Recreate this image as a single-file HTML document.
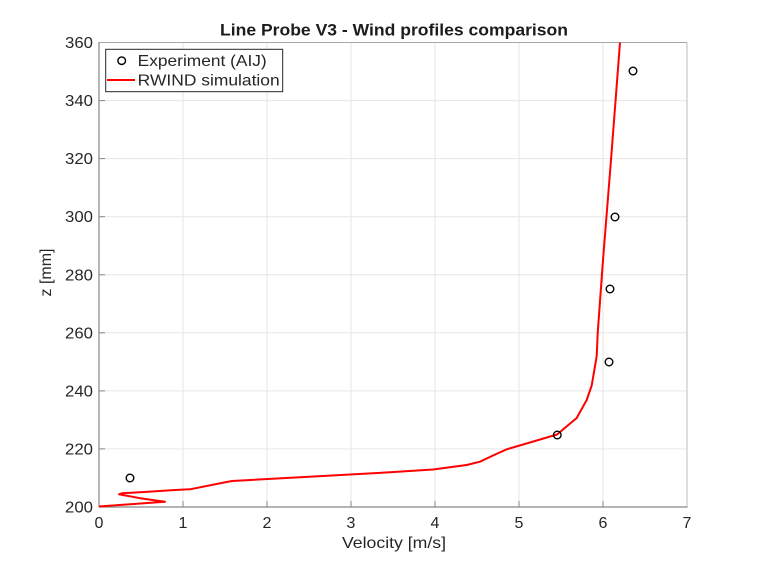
<!DOCTYPE html>
<html>
<head>
<meta charset="utf-8">
<style>
  html,body{margin:0;padding:0;background:#fff;}
  svg{display:block;}
  text{font-family:"Liberation Sans",Arial,sans-serif;fill:#262626;}
</style>
</head>
<body>
<svg width="760" height="570" viewBox="0 0 760 570" xmlns="http://www.w3.org/2000/svg">
  <rect x="0" y="0" width="760" height="570" fill="#ffffff"/>
  <!-- grid -->
  <g stroke="#e6e6e6" stroke-width="1">
    <line x1="183" y1="42.5" x2="183" y2="507"/>
    <line x1="267" y1="42.5" x2="267" y2="507"/>
    <line x1="351" y1="42.5" x2="351" y2="507"/>
    <line x1="435" y1="42.5" x2="435" y2="507"/>
    <line x1="519" y1="42.5" x2="519" y2="507"/>
    <line x1="603" y1="42.5" x2="603" y2="507"/>
    <line x1="99" y1="448.9" x2="687" y2="448.9"/>
    <line x1="99" y1="390.9" x2="687" y2="390.9"/>
    <line x1="99" y1="332.8" x2="687" y2="332.8"/>
    <line x1="99" y1="274.8" x2="687" y2="274.8"/>
    <line x1="99" y1="216.7" x2="687" y2="216.7"/>
    <line x1="99" y1="158.6" x2="687" y2="158.6"/>
    <line x1="99" y1="100.6" x2="687" y2="100.6"/>
  </g>
  <!-- box -->
  <line x1="99" y1="42.5" x2="687" y2="42.5" stroke="#a6a6a6" stroke-width="1"/>
  <line x1="687" y1="42.5" x2="687" y2="507" stroke="#bdbdbd" stroke-width="1"/>
  <line x1="99" y1="42" x2="99" y2="507" stroke="#868686" stroke-width="1.2"/>
  <line x1="99" y1="507" x2="687.5" y2="507" stroke="#868686" stroke-width="1.2"/>
  <!-- ticks -->
  <g stroke="#868686" stroke-width="1">
    <line x1="183" y1="507" x2="183" y2="501"/>
    <line x1="267" y1="507" x2="267" y2="501"/>
    <line x1="351" y1="507" x2="351" y2="501"/>
    <line x1="435" y1="507" x2="435" y2="501"/>
    <line x1="519" y1="507" x2="519" y2="501"/>
    <line x1="603" y1="507" x2="603" y2="501"/>
    <line x1="99" y1="448.9" x2="105" y2="448.9"/>
    <line x1="99" y1="390.9" x2="105" y2="390.9"/>
    <line x1="99" y1="332.8" x2="105" y2="332.8"/>
    <line x1="99" y1="274.8" x2="105" y2="274.8"/>
    <line x1="99" y1="216.7" x2="105" y2="216.7"/>
    <line x1="99" y1="158.6" x2="105" y2="158.6"/>
    <line x1="99" y1="100.6" x2="105" y2="100.6"/>
  </g>
  <!-- x tick labels -->
  <g font-size="16" text-anchor="middle">
    <text x="99" y="528">0</text>
    <text x="183" y="528">1</text>
    <text x="267" y="528">2</text>
    <text x="351" y="528">3</text>
    <text x="435" y="528">4</text>
    <text x="519" y="528">5</text>
    <text x="603" y="528">6</text>
    <text x="687" y="528">7</text>
  </g>
  <!-- y tick labels -->
  <g font-size="16" text-anchor="end">
    <text x="93" y="512.5" textLength="28" lengthAdjust="spacingAndGlyphs">200</text>
    <text x="93" y="454.4" textLength="28" lengthAdjust="spacingAndGlyphs">220</text>
    <text x="93" y="396.4" textLength="28" lengthAdjust="spacingAndGlyphs">240</text>
    <text x="93" y="338.3" textLength="28" lengthAdjust="spacingAndGlyphs">260</text>
    <text x="93" y="280.3" textLength="28" lengthAdjust="spacingAndGlyphs">280</text>
    <text x="93" y="222.2" textLength="28" lengthAdjust="spacingAndGlyphs">300</text>
    <text x="93" y="164.1" textLength="28" lengthAdjust="spacingAndGlyphs">320</text>
    <text x="93" y="106.1" textLength="28" lengthAdjust="spacingAndGlyphs">340</text>
    <text x="93" y="48" textLength="28" lengthAdjust="spacingAndGlyphs">360</text>
  </g>
  <!-- axis labels -->
  <text x="342" y="548" font-size="16" textLength="104" lengthAdjust="spacingAndGlyphs">Velocity [m/s]</text>
  <text transform="translate(51,272.5) rotate(-90)" font-size="16" text-anchor="middle">z [mm]</text>
  <!-- title -->
  <text x="220" y="35.5" font-size="16.5" font-weight="bold" style="fill:#1c1c1c" textLength="348" lengthAdjust="spacingAndGlyphs">Line Probe V3 - Wind profiles comparison</text>

  <!-- simulation line -->
  <polyline fill="none" stroke="#ff0000" stroke-width="2" stroke-linejoin="round" points="
    99,506.5 165,501.7 140,498.2 119,494.3 122,493.3 150,491.6 175,490 190,489.3 226.7,482 232,481 300,477.3 390,472.3 433,469.5 466.7,465 480,461.7 493,455.5 506.7,449.3 557,434.5 576.7,418 586.7,400 591.7,385.5 596.7,356 597.7,333 603,260 611,160 620,42.5"/>

  <!-- experiment markers -->
  <g fill="none" stroke="#000" stroke-width="1.4">
    <circle cx="130" cy="478" r="3.8"/>
    <circle cx="557.3" cy="435" r="3.8"/>
    <circle cx="609" cy="362" r="3.8"/>
    <circle cx="610" cy="289" r="3.8"/>
    <circle cx="615" cy="217" r="3.8"/>
    <circle cx="633" cy="71" r="3.8"/>
  </g>

  <!-- legend -->
  <rect x="105.7" y="49.3" width="177" height="42.4" fill="#ffffff" stroke="#262626" stroke-width="1"/>
  <circle cx="121.7" cy="60.7" r="3.8" fill="none" stroke="#000" stroke-width="1.4"/>
  <line x1="107" y1="80" x2="135" y2="80" stroke="#ff0000" stroke-width="2"/>
  <text x="137.7" y="66" font-size="16" textLength="129" lengthAdjust="spacingAndGlyphs">Experiment (AIJ)</text>
  <text x="137.7" y="85.7" font-size="16" textLength="142" lengthAdjust="spacingAndGlyphs">RWIND simulation</text>
</svg>
</body>
</html>
